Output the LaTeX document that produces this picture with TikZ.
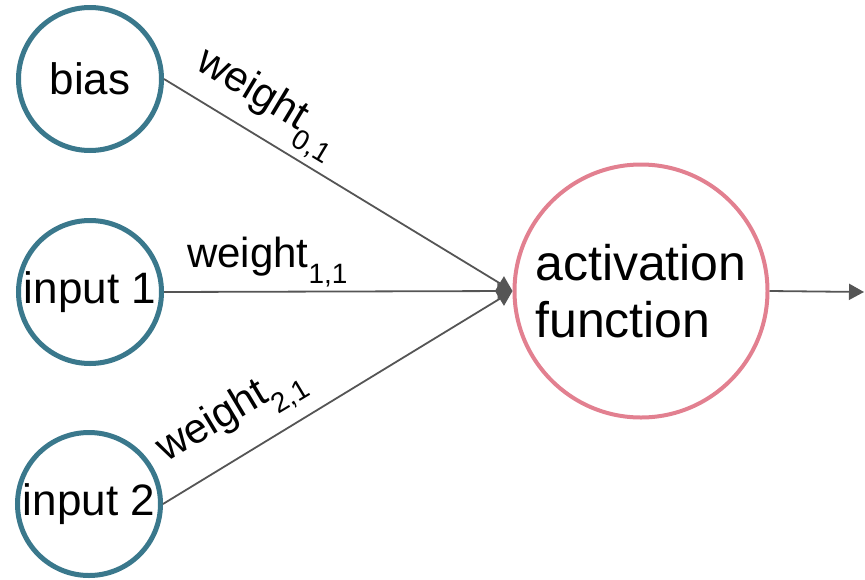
\documentclass[tikz,border=0pt]{standalone}
\usepackage{fontspec}
\setmainfont{Liberation Sans}
\usetikzlibrary{arrows.meta,positioning}
\definecolor{inblue}{RGB}{58,120,140}
\definecolor{actpink}{RGB}{226,128,144}
\definecolor{wiregray}{RGB}{85,85,85}
\newcommand{\fs}[1]{\fontsize{#1}{#1}\selectfont}
\newcommand{\wgt}[1]{weight\raisebox{-16pt}{\fs{28}#1}}

\begin{document}
\begin{tikzpicture}[
        x=1pt, y=-1pt,
        >={Triangle[length=15pt,width=16pt]},
        input/.style = {draw=inblue, circle, line width=5pt, minimum size=143pt, inner sep=0pt, font=\fs{44}},
        neuron/.style = {draw=actpink, circle, line width=4pt, minimum size=253pt, inner sep=0pt, font=\fontsize{50}{57}\selectfont, align=left},
        wire/.style = {draw=wiregray, line width=1.8pt, ->},
        wlabel/.style = {anchor=base west, inner sep=0pt, font=\fs{42}}]

    \useasboundingbox (0,0) rectangle (865,579);

    % inputs and the neuron
    \node[input] (bias) at (90,79) {bias};
    \node[input] (in1) at (90,292) {input 1};
    \node[input] (in2) at (89,504) {input 2};
    \node[neuron] (act) at (641,291) {activation\\function};
    \coordinate (out) at (864,292);

    \draw[wire] (bias.east) -- (act.west);
    \draw[wire] (in1.east) -- (act.west);
    \draw[wire] (in2.east) -- (act.west);
    \draw[wire] (act.east) -- (out);

    % weights
    \node[wlabel, rotate=-31] (w01) at (194,68) {\wgt{0,1}};
    \node[wlabel] (w11) at (187,267) {\wgt{1,1}};
    \node[wlabel, rotate=31] (w21) at (166,463) {\wgt{2,1}};

\end{tikzpicture}
\end{document}
